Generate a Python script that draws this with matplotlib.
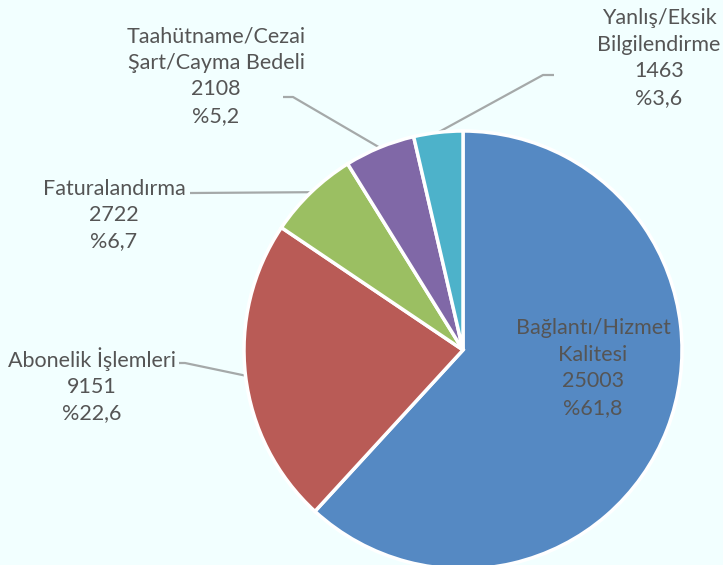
import numpy as np
import matplotlib
matplotlib.use("Agg")
import matplotlib.pyplot as plt

# ---- data ----
categories = ["Bağlantı/Hizmet\nKalitesi", "Abonelik İşlemleri", "Faturalandırma",
              "Taahütname/Cezai\nŞart/Cayma Bedeli", "Yanlış/Eksik\nBilgilendirme"]
values = [25003, 9151, 2722, 2108, 1463]
colors = ["#5589C3", "#B95B56", "#9BBF62", "#8068A7", "#4DB2CA"]

W, H = 723, 565
BG = "#F2FFFF"
TXT = "#555555"
LINE = "#A5A9A9"

def Y(y):
    return H - y

fig = plt.figure(figsize=(W / 100, H / 100), dpi=100, facecolor=BG)
ax = fig.add_axes([0, 0, 1, 1])
ax.set_facecolor(BG)

cx, cy, R = 463, 350, 219
wedges, _ = ax.pie(values, colors=colors, startangle=90, counterclock=False,
                   center=(cx, Y(cy)), radius=R,
                   wedgeprops=dict(edgecolor="white", linewidth=2.5))
ax.set_xlim(0, W)
ax.set_ylim(0, H)
ax.set_aspect("equal")
ax.axis("off")

total = sum(values)
labels = []
for c, v in zip(categories, values):
    pct = f"%{v / total * 100:.1f}".replace(".", ",")
    labels.append(f"{c}\n{v}\n{pct}")

# label centres (pixel coords, y from top)
label_pos = [(593, 368), (92, 385), (114, 215), (216, 76), (659, 58)]
# leader: start point near text, elbow point (None = no leader)
leaders = [None, ((179, 363), (185, 363)), ((190, 193), (192, 193)),
           ((283, 97), (293, 97)), ((554, 75), (543, 75))]

font = dict(family=["Lato", "DejaVu Sans"], size=15.5, color=TXT)
for i, (lab, (x, y)) in enumerate(zip(labels, label_pos)):
    ax.text(x, Y(y), lab, ha="center", va="center", linespacing=1.4, **font)
    if leaders[i] is not None:
        w = wedges[i]
        mid = np.deg2rad((w.theta1 + w.theta2) / 2)
        ex = cx + R * np.cos(mid)
        ey = Y(cy) + R * np.sin(mid)
        (sx, sy), (bx, by) = leaders[i]
        ax.plot([sx, bx, ex], [Y(sy), Y(by), ey], color=LINE, lw=1.6,
                solid_capstyle="butt", zorder=0.5)

fig.savefig("out.png", dpi=100, facecolor=BG)
